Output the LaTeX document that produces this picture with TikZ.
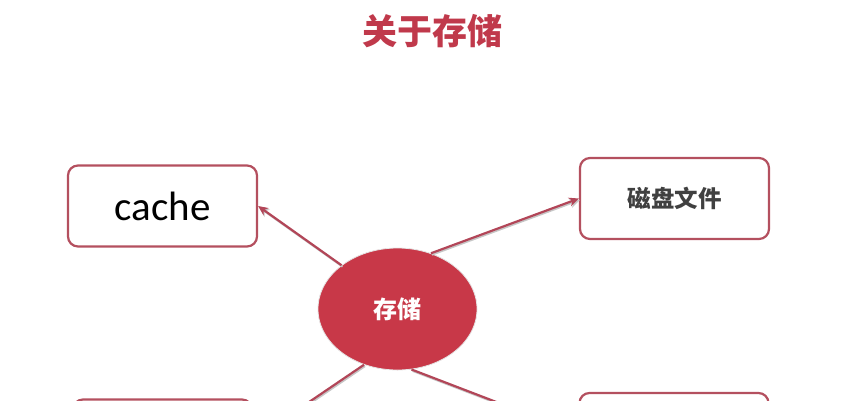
\documentclass[tikz,border=0pt]{standalone}
\usepackage{fontspec}
\setmainfont{Carlito}
\newfontfamily\cjk{Noto Sans CJK SC}
\usetikzlibrary{shapes.geometric,arrows.meta}
\definecolor{titlered}{RGB}{192,57,75}
\definecolor{boxred}{RGB}{180,80,95}
\definecolor{fillred}{RGB}{200,56,72}
\definecolor{textgray}{RGB}{64,64,64}
\definecolor{linered}{RGB}{178,70,88}
\tikzset{
  box/.style={draw=boxred, line width=2.2pt, rounded corners=10pt, fill=white,
    minimum width=189pt, minimum height=81pt, inner sep=0pt},
  conn/.style={draw=linered, line width=2.2pt, -{Stealth[length=10pt,width=9pt]},
    preaction={draw=gray!45, line width=1.8pt, transform canvas={shift={(1pt,-1.5pt)}}}},
}
\begin{document}
\begin{tikzpicture}[x=1pt,y=-1pt]
\useasboundingbox (0,0) rectangle (861,400);
\clip (0,0) rectangle (861,400);
\node (title) at (432,31) {\cjk\bfseries\fontsize{35}{40}\selectfont\color{titlered}关于存储};
\node[box] (cache) at (162.5,206) {\fontsize{41}{46}\selectfont cache};
\node[box] (disk) at (674.5,198.5) {\cjk\bfseries\fontsize{23.5}{28}\selectfont\color{textgray}磁盘文件};
\node[box, minimum width=179pt] (bl) at (162.5,440) {};
\node[box] (br) at (674,433.5) {};
\node[ellipse, fill=fillred, draw=gray!20, line width=0.8pt, minimum width=159pt, minimum height=122pt, inner sep=0pt] (store) at (397.5,309)
  {\cjk\bfseries\fontsize{24}{28}\selectfont\color{white}存储};
\draw[conn] (store.142) -- (cache.east);
\draw[conn] (store.59) -- (disk.west);
\draw[conn] (store.239) -- (bl.east);
\draw[conn] (store.283) -- (br.west);
\end{tikzpicture}
\end{document}
